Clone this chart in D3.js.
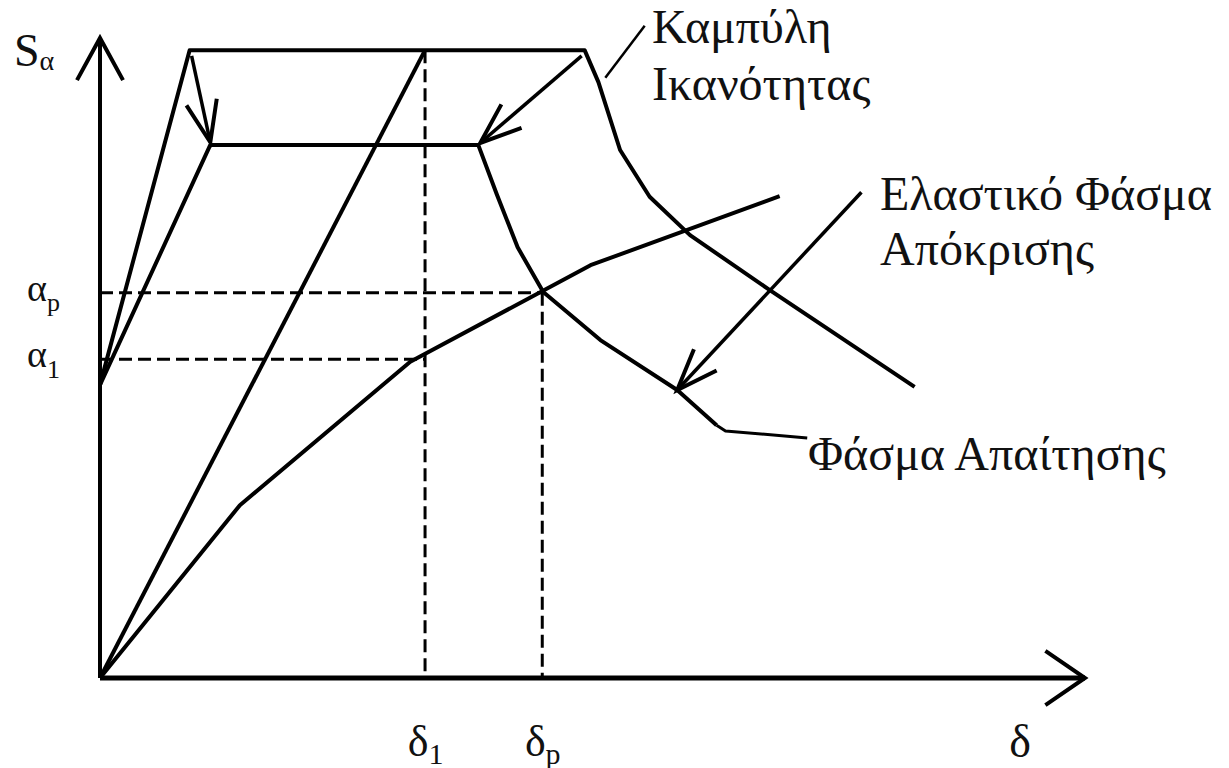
<!DOCTYPE html>
<html>
<head>
<meta charset="utf-8">
<script src="https://cdn.jsdelivr.net/npm/d3@7"></script>
<style>
  body { margin: 0; background: #fff; }
  svg { display: block; }
  .lbl { font-family: "Liberation Serif", "DejaVu Serif", serif; fill: #111; }
</style>
</head>
<body>
<div id="chart"></div>
<script>
// values in arbitrary units: displacement delta (0..100), spectral acceleration Sa (0..100)
var elasticD  = [0, 9.1, 49.2, 50.6, 52.8, 55.8, 59.9, 68.0, 82.7];
var elasticSa = [45.8, 98.1, 98.1, 93.1, 82.5, 75.2, 69.2, 60.6, 45.5];

var demandD  = [0, 11.2, 38.4, 40.3, 42.4, 45.0, 50.8, 58.6, 62.6];
var demandSa = [45.8, 83.3, 83.3, 75.5, 67.3, 60.3, 52.8, 45.0, 39.5];

var capacityD  = [0, 14.2, 31.5, 49.8, 69.0];
var capacitySa = [0, 27.0, 49.4, 64.5, 75.3];

var secantD  = [0, 33.0];
var secantSa = [0, 98.1];

var delta1 = 33.0, deltaP = 44.9;
var alpha1 = 49.8, alphaP = 60.2;
var plateauSa = 98.1;

// arrows: [fromD, fromSa, toD, toSa]
var arrows = [
    [9.3, 97.2, 11.2, 83.7],
    [48.9, 97.2, 38.6, 83.6],
    [77.3, 75.9, 58.6, 45.0]
];
// leader lines (no head)
var leaderCapD = [55.3, 51.3], leaderCapSa = [101.9, 93.8];
var leaderDemD = [62.6, 63.5, 71.8], leaderDemSa = [39.5, 38.6, 37.5];

var yTicks = [{ v: alphaP, t: "α", s: "p" }, { v: alpha1, t: "α", s: "1" }];
var xTicks = [{ v: delta1, t: "δ", s: "1" }, { v: deltaP, t: "δ", s: "p" }];

/*********************************************************************/
var width = 1229, height = 768;

var svg = d3.select("#chart").append("svg")
    .attr("width", width)
    .attr("height", height);

var x = d3.scaleLinear().domain([0, 100]).range([100, 1085]);
var y = d3.scaleLinear().domain([0, 100]).range([678, 38]);

function pts(ds, ss) { return ds.map(function (d, i) { return [d, ss[i]]; }); }

var line = d3.line()
    .x(function (d) { return x(d[0]); })
    .y(function (d) { return y(d[1]); });

function head(g, tip, tail, len, ang, w) {
    var a = Math.atan2(tail[1] - tip[1], tail[0] - tip[0]);
    var p1 = [tip[0] + len * Math.cos(a + ang), tip[1] + len * Math.sin(a + ang)];
    var p2 = [tip[0] + len * Math.cos(a - ang), tip[1] + len * Math.sin(a - ang)];
    g.append("path")
        .attr("d", "M" + p1 + "L" + tip + "L" + p2)
        .attr("fill", "none")
        .attr("stroke", "#000")
        .attr("stroke-width", w)
        .attr("stroke-linejoin", "miter");
}

// dashed guides
var guides = svg.append("g")
    .attr("stroke", "#000")
    .attr("stroke-width", 3)
    .attr("stroke-dasharray", "13,6")
    .attr("fill", "none");
guides.append("path").attr("d", line([[0, alphaP], [deltaP, alphaP]]));
guides.append("path").attr("d", line([[0, alpha1], [delta1, alpha1]]));
guides.append("path").attr("d", line([[delta1, plateauSa], [delta1, 0]]));
guides.append("path").attr("d", line([[deltaP, alphaP], [deltaP, 0]]));

// curves
var curves = svg.append("g")
    .attr("fill", "none")
    .attr("stroke", "#000")
    .attr("stroke-width", 4)
    .attr("stroke-linejoin", "round");
curves.append("path").attr("d", line(pts(elasticD, elasticSa)));
curves.append("path").attr("d", line(pts(demandD, demandSa)));
curves.append("path").attr("d", line(pts(capacityD, capacitySa)));
curves.append("path").attr("d", line(pts(secantD, secantSa)));
curves.append("path").attr("d", line(pts(leaderCapD, leaderCapSa))).attr("stroke-width", 2.5);
curves.append("path").attr("d", line(pts(leaderDemD, leaderDemSa))).attr("stroke-width", 3);

// arrows
arrows.forEach(function (a) {
    var tail = [x(a[0]), y(a[1])], tip = [x(a[2]), y(a[3])];
    curves.append("path").attr("d", "M" + tail + "L" + tip).attr("stroke-width", 3.5);
    head(svg, tip, tail, 44, 0.36, 4);
});

// axes
var axes = svg.append("g").attr("stroke", "#000").attr("fill", "none");
axes.append("path").attr("d", line([[0, 0], [0, 100]])).attr("stroke-width", 4);
axes.append("path").attr("d", line([[0, 0], [100, 0]])).attr("stroke-width", 5);
head(svg, [x(0), y(100)], [x(0), y(0)], 48, 0.5, 4);
head(svg, [x(100), y(0)], [x(0), y(0)], 48, 0.6, 4);

var yAxis = d3.axisLeft(y)
    .tickValues(yTicks.map(function (d) { return d.v; }))
    .tickSize(0)
    .tickPadding(40)
    .tickFormat("");
var yg = svg.append("g")
    .attr("transform", "translate(" + x(0) + ",0)")
    .call(yAxis);
yg.select(".domain").remove();
yg.selectAll(".tick text")
    .data(yTicks)
    .attr("class", "lbl")
    .attr("font-size", 38)
    .attr("dy", "0.2em")
    .each(function (d) {
        var t = d3.select(this);
        t.append("tspan").text(d.t);
        t.append("tspan").attr("font-size", 26).attr("dy", "0.4em").text(d.s);
    });

var xAxis = d3.axisBottom(x)
    .tickValues(xTicks.map(function (d) { return d.v; }))
    .tickSize(0)
    .tickFormat("");
var xg = svg.append("g")
    .attr("transform", "translate(0," + y(0) + ")")
    .call(xAxis);
xg.select(".domain").remove();
xg.selectAll(".tick text")
    .data(xTicks)
    .attr("class", "lbl")
    .attr("font-size", 44)
    .attr("y", 78)
    .attr("dy", null)
    .each(function (d) {
        var t = d3.select(this);
        t.append("tspan").text(d.t);
        t.append("tspan").attr("font-size", 30).attr("dy", "0.25em").text(d.s);
    });

// axis titles
var sa = svg.append("text").attr("class", "lbl").attr("x", 14).attr("y", 66).attr("font-size", 46);
sa.append("tspan").text("S");
sa.append("tspan").attr("font-size", 28).attr("dy", "0.15em").text("α");

svg.append("text").attr("class", "lbl")
    .attr("x", x(93.4)).attr("y", 757)
    .attr("text-anchor", "middle")
    .attr("font-size", 46)
    .text("δ");

// curve labels
function label(lines, lx, ly, lh) {
    var t = svg.append("text").attr("class", "lbl").attr("font-size", 48);
    lines.forEach(function (s, i) {
        t.append("tspan").attr("x", lx).attr("y", ly + i * lh).text(s);
    });
}
label(["Καμπύλη", "Ικανότητας"], 652, 43, 57);
label(["Ελαστικό Φάσμα", "Απόκρισης"], 880, 210, 55);
label(["Φάσμα Απαίτησης"], 808, 470, 0);
</script>
</body>
</html>
